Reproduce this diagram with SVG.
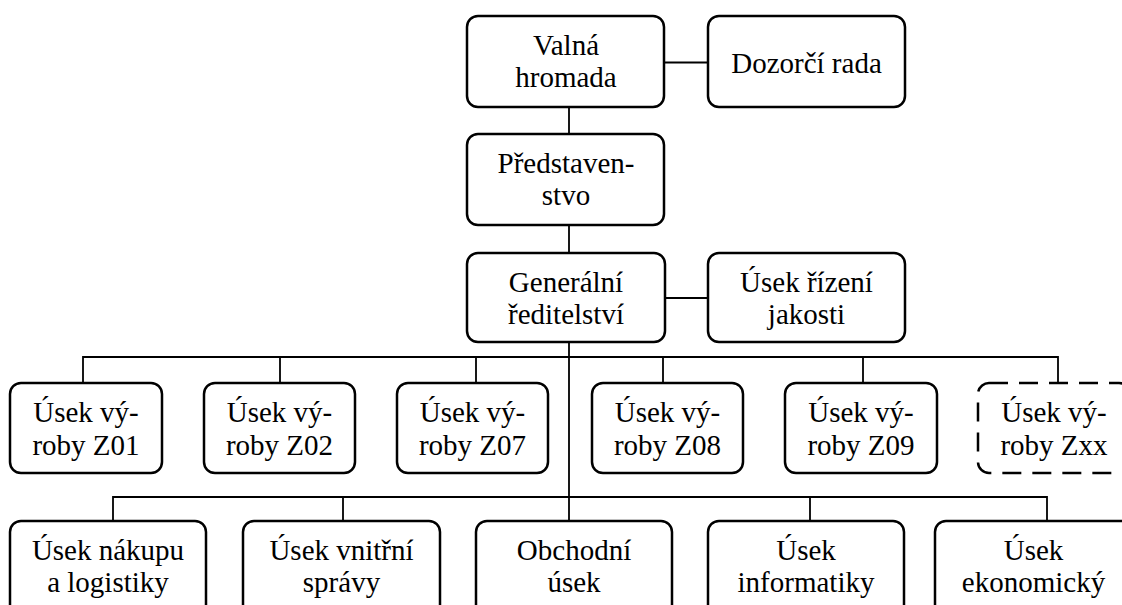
<svg xmlns="http://www.w3.org/2000/svg" width="1122" height="605" viewBox="0 0 1122 605">
  <style>
    .box { fill: #ffffff; stroke: #000000; stroke-width: 2.5; }
    .dashed { stroke-dasharray: 19 11; }
    .link { fill: none; stroke: #000000; stroke-width: 1.8; }
  </style>
  <rect width="1122" height="605" fill="#ffffff"/>

  <!-- connectors -->
  <g id="connectors" class="link">
    <path d="M569 107 V134 M569 225 V253 M569 342 V521"/>
    <path d="M664 62.5 H708 M665 298 H708"/>
    <path d="M83 383 V357 H1058 V383 M280 357 V383 M476 357 V383 M663 357 V383 M863 357 V383"/>
    <path d="M113 521 V497 H1047 V521 M343 497 V521 M810 497 V521"/>
  </g>

  <g id="nodes" font-family="Liberation Serif, DejaVu Serif, serif" font-size="29" fill="#000000" text-anchor="middle">
  <!-- top levels -->
  <g id="valna-hromada">
    <rect class="box" x="467" y="16" width="197" height="91" rx="11"/>
    <text x="566" y="55">Valná</text>
    <text x="566" y="87">hromada</text>
  </g>
  <g id="dozorci-rada">
    <rect class="box" x="708" y="16" width="197" height="91" rx="11"/>
    <text x="806.5" y="73">Dozorčí rada</text>
  </g>
  <g id="predstavenstvo">
    <rect class="box" x="467" y="134" width="197" height="91" rx="11"/>
    <text x="566" y="173">Představen-</text>
    <text x="566" y="205">stvo</text>
  </g>
  <g id="generalni-reditelstvi">
    <rect class="box" x="467" y="253" width="198" height="89" rx="11"/>
    <text x="566" y="292">Generální</text>
    <text x="566" y="324">ředitelství</text>
  </g>
  <g id="rizeni-jakosti">
    <rect class="box" x="708" y="253" width="197" height="89" rx="11"/>
    <text x="806.5" y="292">Úsek řízení</text>
    <text x="806.5" y="324">jakosti</text>
  </g>

  <!-- production divisions -->
  <g id="vyroba-z01">
    <rect class="box" x="10" y="383" width="152" height="90" rx="11"/>
    <text x="86" y="422">Úsek vý-</text>
    <text x="86" y="455">roby Z01</text>
  </g>
  <g id="vyroba-z02">
    <rect class="box" x="204" y="383" width="151" height="90" rx="11"/>
    <text x="279.5" y="422">Úsek vý-</text>
    <text x="279.5" y="455">roby Z02</text>
  </g>
  <g id="vyroba-z07">
    <rect class="box" x="397" y="383" width="151" height="90" rx="11"/>
    <text x="472.5" y="422">Úsek vý-</text>
    <text x="472.5" y="455">roby Z07</text>
  </g>
  <g id="vyroba-z08">
    <rect class="box" x="592" y="383" width="151" height="90" rx="11"/>
    <text x="667.5" y="422">Úsek vý-</text>
    <text x="667.5" y="455">roby Z08</text>
  </g>
  <g id="vyroba-z09">
    <rect class="box" x="785" y="383" width="152" height="90" rx="11"/>
    <text x="861" y="422">Úsek vý-</text>
    <text x="861" y="455">roby Z09</text>
  </g>
  <g id="vyroba-zxx">
    <rect class="box dashed" x="978" y="383" width="152" height="90" rx="11"/>
    <text x="1054" y="422">Úsek vý-</text>
    <text x="1054" y="455">roby Zxx</text>
  </g>

  <!-- support divisions -->
  <g id="nakup-logistika">
    <rect class="box" x="10" y="521" width="196" height="95" rx="11"/>
    <text x="108" y="560">Úsek nákupu</text>
    <text x="108" y="592">a logistiky</text>
  </g>
  <g id="vnitrni-sprava">
    <rect class="box" x="243" y="521" width="197" height="95" rx="11"/>
    <text x="341.5" y="560">Úsek vnitřní</text>
    <text x="341.5" y="592">správy</text>
  </g>
  <g id="obchodni-usek">
    <rect class="box" x="476" y="521" width="196" height="95" rx="11"/>
    <text x="574" y="560">Obchodní</text>
    <text x="574" y="592">úsek</text>
  </g>
  <g id="informatika">
    <rect class="box" x="708" y="521" width="196" height="95" rx="11"/>
    <text x="806" y="560">Úsek</text>
    <text x="806" y="592">informatiky</text>
  </g>
  <g id="ekonomicky-usek">
    <rect class="box" x="935" y="521" width="197" height="95" rx="11"/>
    <text x="1033.5" y="560">Úsek</text>
    <text x="1033.5" y="592">ekonomický</text>
  </g>
  </g>
</svg>
